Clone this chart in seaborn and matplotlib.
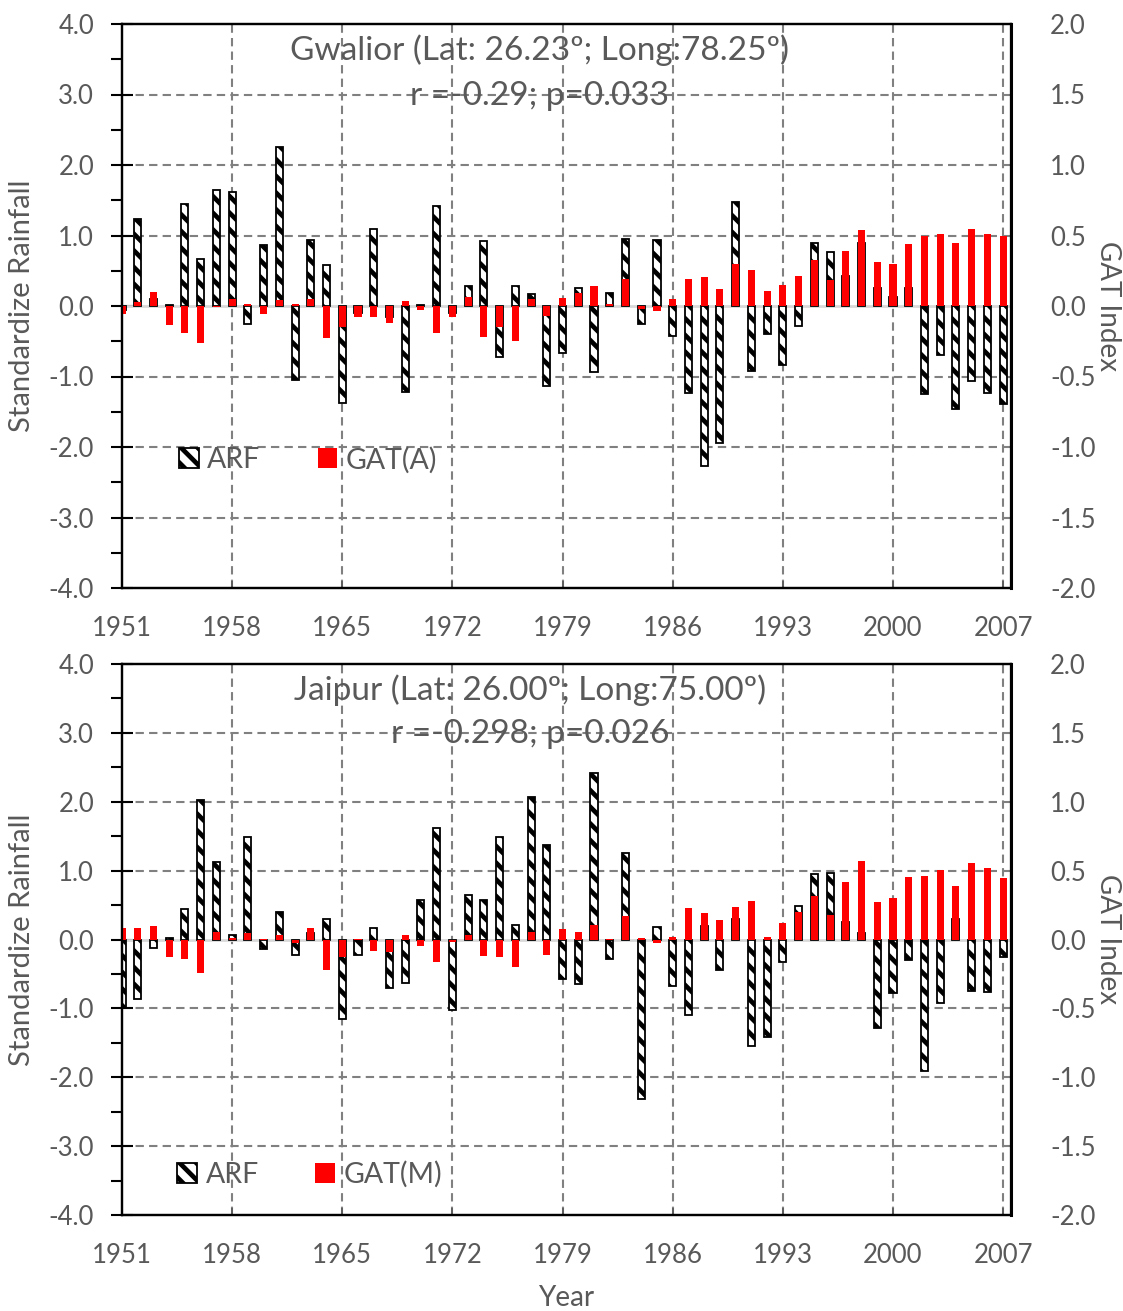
import numpy as np
import pandas as pd
import matplotlib
matplotlib.use("Agg")
import matplotlib.pyplot as plt
from matplotlib.patches import Patch
from matplotlib.ticker import MultipleLocator, FormatStrFormatter
import seaborn as sns

years = list(range(1951, 2008))

gwalior_arf = [-0.05, 1.23, 0.10, 0.02, 1.44, 0.66, 1.64, 1.62, -0.25, 0.87,
               2.25, -1.05, 0.93, 0.58, -1.37, -0.10, 1.09, -0.15, -1.22, 0.02,
               1.42, -0.10, 0.28, 0.92, -0.73, 0.29, 0.17, -1.14, -0.66, 0.25,
               -0.93, 0.18, 0.95, -0.26, 0.93, -0.42, -1.23, -2.27, -1.95, 1.47,
               -0.92, -0.40, -0.84, -0.28, 0.90, 0.76, 0.42, 0.89, 0.25, 0.13,
               0.25, -1.25, -0.70, -1.46, -1.07, -1.23, -1.39]
gwalior_gat = [-0.06, 0.03, 0.10, -0.135, -0.195, -0.265, -0.01, 0.05, 0.017, -0.055,
               0.043, 0.017, 0.05, -0.225, -0.147, -0.076, -0.08, -0.118, 0.033, -0.028,
               -0.19, -0.076, 0.066, -0.217, -0.151, -0.246, 0.047, -0.069, 0.057, 0.092,
               0.142, 0.017, 0.19, -0.02, -0.035, 0.047, 0.19, 0.203, 0.12, 0.298,
               0.255, 0.106, 0.149, 0.21, 0.324, 0.184, 0.392, 0.539, 0.31, 0.298,
               0.442, 0.499, 0.51, 0.449, 0.548, 0.508, 0.496]

jaipur_arf = [-0.99, -0.87, -0.12, 0.02, 0.44, 2.02, 1.13, 0.06, 1.49, -0.14,
              0.40, -0.23, 0.10, 0.30, -1.15, -0.23, 0.17, -0.71, -0.63, 0.57,
              1.62, -1.02, 0.64, 0.58, 1.49, 0.21, 2.07, 1.37, -0.57, -0.65,
              2.42, -0.28, 1.26, -2.31, 0.18, -0.67, -1.09, 0.20, -0.45, 0.30,
              -1.55, -1.41, -0.33, 0.49, 0.95, 0.96, 0.26, 0.10, -1.29, -0.78,
              -0.30, -1.91, -0.92, 0.30, -0.75, -0.76, -0.25]
jaipur_gat = [0.08, 0.085, 0.099, -0.128, -0.14, -0.242, 0.058, 0.01, 0.046, 0.005,
              0.036, -0.024, 0.085, -0.223, -0.128, 0.005, -0.082, -0.092, 0.036, -0.048,
              -0.165, -0.019, 0.031, -0.123, -0.126, -0.203, 0.053, -0.111, 0.073, 0.053,
              0.104, 0.005, 0.174, 0.01, -0.029, 0.019, 0.228, 0.196, 0.145, 0.237,
              0.283, 0.017, 0.121, 0.203, 0.315, 0.177, 0.421, 0.567, 0.274, 0.303,
              0.455, 0.462, 0.508, 0.385, 0.554, 0.516, 0.443]

xtick_years = [1951, 1958, 1965, 1972, 1979, 1986, 1993, 2000, 2007]

panels = [
    dict(arf=gwalior_arf, gat=gwalior_gat, gat_label="GAT(A)",
         title="Gwalior (Lat: 26.23º; Long:78.25º)", stat="r =-0.29; p=0.033"),
    dict(arf=jaipur_arf, gat=jaipur_gat, gat_label="GAT(M)",
         title="Jaipur (Lat: 26.00º; Long:75.00º)", stat="r =-0.298; p=0.026"),
]

sns.set_theme(style="white")
plt.rcParams['font.family'] = ['Lato', 'DejaVu Sans']
plt.rcParams['axes.unicode_minus'] = False
plt.rcParams['hatch.linewidth'] = 3.4
plt.rcParams['hatch.color'] = 'black'

TXT = '#595959'
GRID = '#808080'
HATCH = "\\\\"
W, H = 1123, 1311
fig = plt.figure(figsize=(W / 100, H / 100), dpi=100)

boxes = [(122, 1011, 24, 588), (122, 1011, 664, 1215)]
legend_pos = [(0.064, 0.227), (0.062, 0.073)]
title_pos = [(0.47, 0.954, 0.873), (0.459, 0.952, 0.873)]
col_space = [2.0, 1.98]

for i, (p, (x0, x1, y0, y1)) in enumerate(zip(panels, boxes)):
    ax = fig.add_axes([x0 / W, 1 - y1 / H, (x1 - x0) / W, (y1 - y0) / H])
    df = pd.DataFrame({"year": years, "arf": p["arf"], "gat": p["gat"]})
    sns.barplot(data=df, x="year", y="arf", native_scale=True, width=0.45,
                color="white", saturation=1, edgecolor="black", linewidth=1.3,
                hatch=HATCH, errorbar=None, ax=ax, zorder=2)
    ax2 = ax.twinx()
    sns.barplot(data=df, x="year", y="gat", native_scale=True, width=0.45,
                color="#ff0000", saturation=1, linewidth=0, errorbar=None,
                ax=ax2, zorder=2)

    for a in (ax, ax2):
        a.set_xlim(1951, 2007.5)
        a.set_xlabel("")
        a.set_ylabel("")
    ax.set_ylim(-4, 4)
    ax2.set_ylim(-2, 2)

    ax.set_axisbelow(True)
    for yv in [-3, -2, -1, 1, 2, 3]:
        ax.axhline(yv, color=GRID, lw=1.5, ls=(0, (4, 2.5)), zorder=0.5)
    for xv in xtick_years[1:]:
        ax.axvline(xv, color=GRID, lw=1.5, ls=(0, (4, 2.5)), zorder=0.5)
    ax.axhline(0, color='#d9d9d9', lw=2, zorder=1)

    ax.yaxis.set_major_locator(MultipleLocator(1))
    ax.yaxis.set_minor_locator(MultipleLocator(0.5))
    ax.yaxis.set_major_formatter(FormatStrFormatter('%.1f'))
    ax2.yaxis.set_major_locator(MultipleLocator(0.5))
    ax2.yaxis.set_major_formatter(FormatStrFormatter('%.1f'))
    ax.set_xticks(xtick_years)
    ax.set_xticklabels([str(y) for y in xtick_years])
    ax2.set_xticks(xtick_years)

    ax.tick_params(axis='y', which='major', direction='inout', length=16, width=1.5,
                   labelsize=18.5, labelcolor=TXT, color='black', pad=12, left=True)
    ax.tick_params(axis='y', which='minor', direction='out', length=8, width=1.5,
                   color='black', left=True)
    ax.tick_params(axis='x', direction='in', length=5, width=1.2, color='#595959',
                   labelsize=18.5, labelcolor=TXT, pad=20, bottom=True)
    ax2.tick_params(axis='y', length=0, labelsize=18.5, labelcolor=TXT, pad=28, right=True)
    ax2.tick_params(axis='x', length=0, labelbottom=False)

    for a in (ax, ax2):
        for s in a.spines.values():
            s.set_visible(True)
            s.set_color('black')
            s.set_linewidth(1.6)
    ax2.spines['right'].set_linewidth(2.2)

    handles = [Patch(facecolor='white', edgecolor='black', hatch=HATCH, linewidth=1.3),
               Patch(facecolor='#ff0000', edgecolor='none')]
    leg = ax2.legend(handles, ["ARF", p["gat_label"]], loc='center left',
                     bbox_to_anchor=legend_pos[i], ncol=2, frameon=False,
                     fontsize=20.5, handlelength=0.7, handleheight=0.7,
                     handletextpad=0.3, columnspacing=col_space[i], borderpad=0,
                     borderaxespad=0)
    for t in leg.get_texts():
        t.set_color(TXT)

    tx, ty1, ty2 = title_pos[i]
    ax2.text(tx, ty1, p["title"], transform=ax2.transAxes, ha='center', va='center',
             fontsize=24, color=TXT, zorder=10)
    ax2.text(tx, ty2, p["stat"], transform=ax2.transAxes, ha='center', va='center',
             fontsize=24, color=TXT, zorder=10)

    cy = 1 - ((y0 + y1) / 2) / H
    fig.text(22 / W, cy, "Standardize Rainfall", rotation=90, ha='center', va='center',
             fontsize=21, color=TXT)
    fig.text(1108 / W, cy, "GAT Index", rotation=-90, ha='center', va='center',
             fontsize=20, color=TXT)

fig.text(566 / W, 1 - 1298 / H, "Year", ha='center', va='center', fontsize=20, color=TXT)

fig.savefig("out.png", dpi=100)
